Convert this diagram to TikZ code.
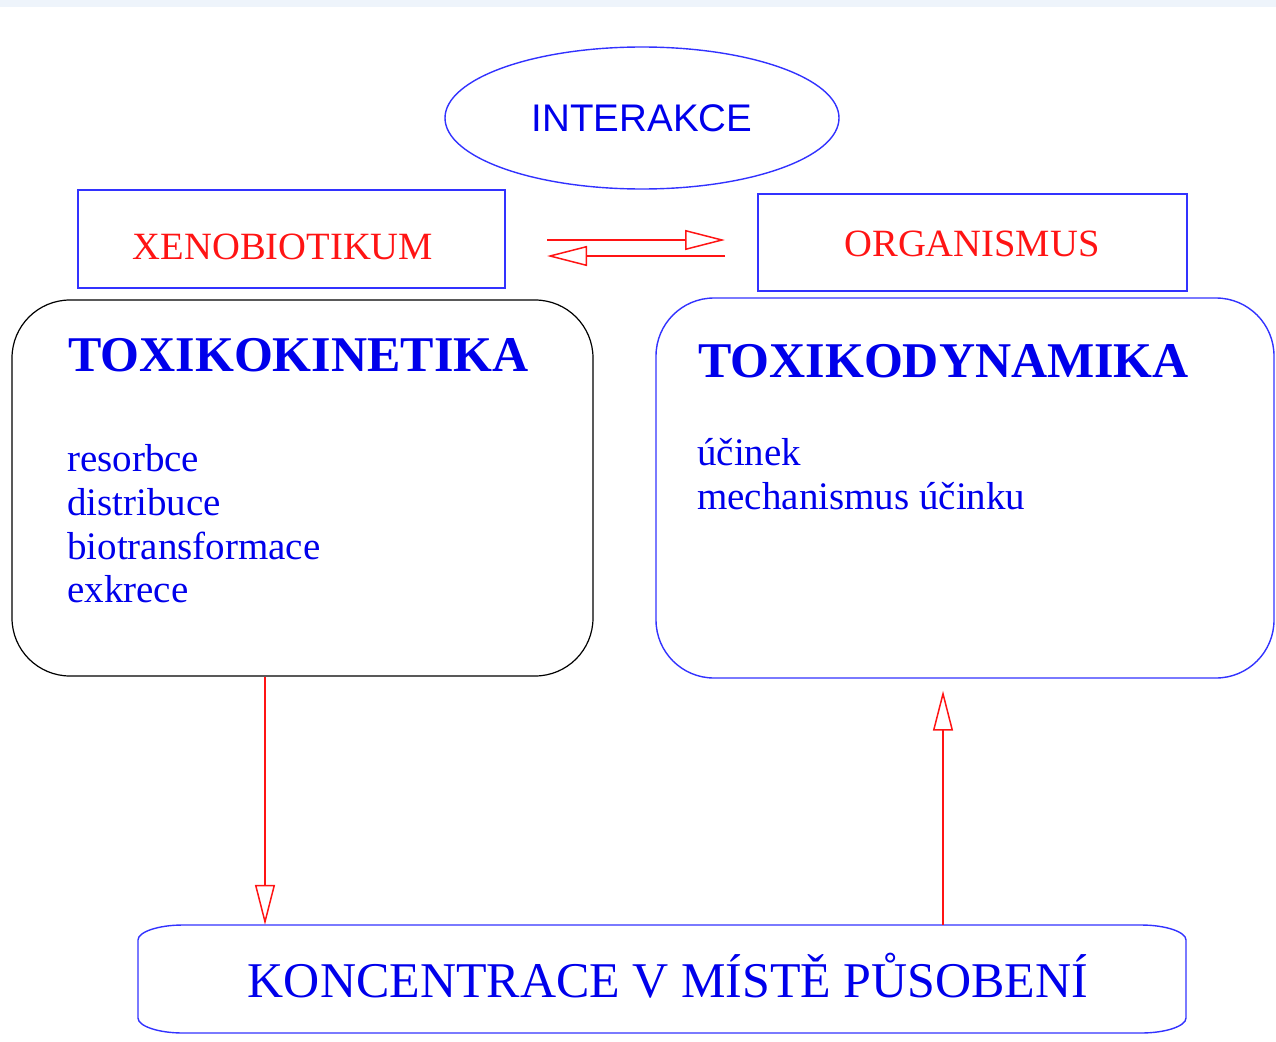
\documentclass[tikz,border=0pt]{standalone}
\usepackage{fontspec}
\setmainfont{Liberation Serif}
\newfontfamily\arialfont{Liberation Sans}
\usetikzlibrary{arrows.meta,shapes.geometric}
\definecolor{tblue}{RGB}{0,0,235}
\definecolor{lblue}{RGB}{50,50,255}
\definecolor{tred}{RGB}{255,20,20}
\definecolor{topstrip}{RGB}{238,244,251}
\begin{document}
\begin{tikzpicture}[x=1pt,y=-1pt,
  boxline/.style={draw=lblue, line width=1.4pt},
  labelbox/.style={boxline, rectangle, inner sep=0pt},
  redarr/.style={draw=tred, line width=1.2pt, -{Triangle[open, length=40pt, width=20pt, line width=1.5pt]}},
  bodytext/.style={text=tblue, font=\fontsize{39}{44}\selectfont, anchor=base west, inner sep=0pt},
  titletext/.style={text=tblue, font=\fontsize{50}{54}\selectfont\bfseries, anchor=base west, inner sep=0pt},
  redtext/.style={text=tred, font=\fontsize{38.6}{42}\selectfont}
]
\useasboundingbox (0,0) rectangle (1276,1041);
\fill[topstrip] (0,0) rectangle (1276,7);

% ellipse
\node[ellipse, boxline, minimum width=394pt, minimum height=142pt, inner sep=0pt,
      text=tblue, font=\arialfont\fontsize{38.5}{42}\selectfont] (inter) at (642,118) {INTERAKCE};

% label boxes
\node[labelbox, minimum width=427pt, minimum height=98pt] (xeno) at (291.5,239) {};
\node[redtext] (xenot) at (283,247) {XENOBIOTIKUM};
\node[labelbox, minimum width=429pt, minimum height=97pt] (org) at (972.5,242.5) {};
\node[redtext] (orgt) at (972,244) {ORGANISMUS};

% exchange arrows
\coordinate (h1a) at (547,240);
\coordinate (h1b) at (725,240);
\coordinate (h2a) at (725,256);
\coordinate (h2b) at (547,256);
\draw[redarr] (h1a) -- (h1b);
\draw[redarr] (h2a) -- (h2b);

% big rounded boxes
\node[draw=black, line width=1.2pt, rectangle, rounded corners=58pt, minimum width=581pt, minimum height=376pt, inner sep=0pt] (kin) at (302.5,488) {};
\node[boxline, rectangle, rounded corners=58pt, minimum width=618pt, minimum height=380pt, inner sep=0pt] (dyn) at (965,488) {};

\node[titletext] (kint) at (68,371) {TOXIKOKINETIKA};
\node[bodytext] (k1) at (67,471) {resorbce};
\node[bodytext] (k2) at (67,515) {distribuce};
\node[bodytext] (k3) at (67,559) {biotransformace};
\node[bodytext] (k4) at (67,602) {exkrece};

\node[titletext] (dynt) at (698,377) {TOXIKODYNAMIKA};
\node[bodytext] (d1) at (697,465) {účinek};
\node[bodytext] (d2) at (697,509) {mechanismus účinku};

% bottom box
\node[rectangle, minimum width=1048pt, minimum height=108pt, inner sep=0pt] (konc) at (662,979) {};
\draw[boxline] (183,925) -- (1141,925)
   .. controls (1166,925) and (1186,932) .. (1186,940)
   -- (1186,1018)
   .. controls (1186,1026) and (1166,1033) .. (1141,1033)
   -- (183,1033)
   .. controls (158,1033) and (138,1026) .. (138,1018)
   -- (138,940)
   .. controls (138,932) and (158,925) .. (183,925) -- cycle;
\node[text=tblue, font=\fontsize{50}{54}\selectfont, anchor=base, inner sep=0pt] (konct) at (668,997) {KONCENTRACE V MÍSTĚ PŮSOBENÍ};

% vertical arrows
\coordinate (va) at (265,0);
\coordinate (vb) at (943,0);
\draw[redarr] (kin.south -| va) -- (konc.north -| va);
\draw[redarr, shorten >=12pt] (konc.north -| vb) -- (dyn.south -| vb);
\end{tikzpicture}
\end{document}
